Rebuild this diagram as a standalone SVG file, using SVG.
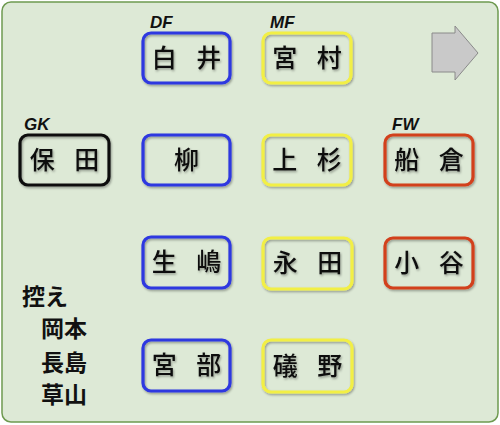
<svg xmlns="http://www.w3.org/2000/svg" width="500" height="425" viewBox="0 0 500 425">
<defs>
<filter id="sh" x="-20%" y="-20%" width="140%" height="140%"><feDropShadow dx="1" dy="1.5" stdDeviation="1" flood-color="#000" flood-opacity="0.35"/></filter>
</defs>
<style>
.box{fill:none;stroke-width:3.2}
.df{stroke:#2e38e0}
.mf{stroke:#f2ef45}
.fw{stroke:#d2401c}
.gk{stroke:#111}
.nm{font-family:"Noto Sans CJK JP","Noto Sans CJK SC",sans-serif;font-size:25px;font-weight:500;fill:#111;text-anchor:middle;word-spacing:14px}
.pos{font-family:"Liberation Sans",Arial,sans-serif;font-size:17px;font-weight:bold;font-style:italic;fill:#111}
.sub{font-family:"Noto Sans CJK JP","Noto Sans CJK SC",sans-serif;font-size:23px;font-weight:bold;fill:#111}
</style>
<rect x="2" y="2" width="496" height="420" rx="9" fill="#dde9d6" stroke="#6e9a50" stroke-width="1.5"/>
<g id="labels">
<text class="pos" x="150" y="28">DF</text>
<text class="pos" x="270" y="28">MF</text>
<text class="pos" x="24" y="130">GK</text>
<text class="pos" x="392" y="130">FW</text>
</g>
<g id="arrow"><path d="M432,33 H455 V26 L478,53 L455,80 V72 H432 Z" fill="#c9c9c9" stroke="#8a8a8a" stroke-width="1"/></g>
<g id="n-hota" filter="url(#sh)"><rect class="box gk" x="20" y="135" width="89" height="50" rx="8"/><text class="nm" x="64.5" y="169">保 田</text></g>
<g id="n-shirai" filter="url(#sh)"><rect class="box df" x="143" y="33" width="87" height="50" rx="8"/><text class="nm" x="186.5" y="67">白 井</text></g>
<g id="n-yanagi" filter="url(#sh)"><rect class="box df" x="143" y="135" width="87" height="50" rx="8"/><text class="nm" x="186.5" y="169">柳</text></g>
<g id="n-ikushima" filter="url(#sh)"><rect class="box df" x="143" y="237" width="87" height="51" rx="8"/><text class="nm" x="186.5" y="271">生 嶋</text></g>
<g id="n-miyabe" filter="url(#sh)"><rect class="box df" x="143" y="340" width="87" height="51" rx="8"/><text class="nm" x="186.5" y="374">宮 部</text></g>
<g id="n-miyamura" filter="url(#sh)"><rect class="box mf" x="263" y="33" width="88" height="50" rx="8"/><text class="nm" x="307" y="67">宮 村</text></g>
<g id="n-uesugi" filter="url(#sh)"><rect class="box mf" x="263" y="135" width="88" height="50" rx="8"/><text class="nm" x="307" y="169">上 杉</text></g>
<g id="n-nagata" filter="url(#sh)"><rect class="box mf" x="263" y="238" width="89" height="51" rx="8"/><text class="nm" x="307.5" y="272">永 田</text></g>
<g id="n-isono" filter="url(#sh)"><rect class="box mf" x="263" y="340" width="89" height="52" rx="8"/><text class="nm" x="307.5" y="375">礒 野</text></g>
<g id="n-funakura" filter="url(#sh)"><rect class="box fw" x="385" y="135" width="88" height="50" rx="8"/><text class="nm" x="429" y="169">船 倉</text></g>
<g id="n-kotani" filter="url(#sh)"><rect class="box fw" x="385" y="238" width="88" height="50" rx="8"/><text class="nm" x="429" y="272">小 谷</text></g>
<g id="reserves">
<text class="sub" x="22" y="305">控え</text>
<text class="sub" x="41" y="337">岡本</text>
<text class="sub" x="41" y="371">長島</text>
<text class="sub" x="41" y="403">草山</text>
</g>
<g id="connectors"/>
</svg>
